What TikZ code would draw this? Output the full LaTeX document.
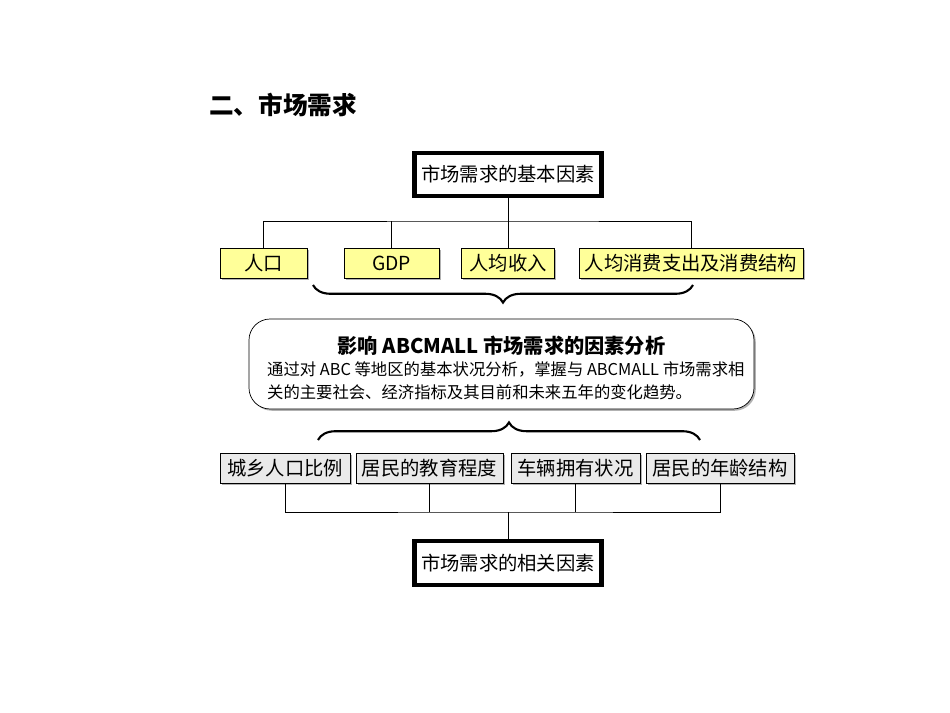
\documentclass[tikz,border=0pt]{standalone}
\usepackage{fontspec}
\setmainfont{Liberation Serif}
\newfontfamily\cjk{Noto Sans CJK SC}
\usetikzlibrary{decorations.pathreplacing,shadows}
\definecolor{factoryellow}{RGB}{255,255,153}
\definecolor{factorgray}{RGB}{234,234,234}
\tikzset{
  keybox/.style={draw, line width=2.8pt, fill=white, inner sep=0pt, font=\cjk\fontsize{11}{13}\selectfont},
  basebox/.style={draw, fill=factoryellow, inner sep=0pt, font=\cjk\fontsize{11}{13}\selectfont,
    drop shadow={shadow xshift=1pt, shadow yshift=-1pt, fill=gray!60, opacity=1}},
  relbox/.style={basebox, fill=factorgray},
  bracket/.style={decorate, decoration={brace, amplitude=10pt}, line width=1.2pt},
}
\begin{document}
\begin{tikzpicture}[x=0.02cm, y=-0.02cm]
  \useasboundingbox (0,0) rectangle (950,713);
  \node[anchor=west, font=\cjk\bfseries\fontsize{14}{16}\selectfont] (heading) at (203,105) {二、市场需求};
  % basic factors
  \node[keybox, minimum width=187*0.02cm, minimum height=43*0.02cm] (basic) at (508,174.5) {市场需求的基本因素};
  \node[basebox, minimum width=87*0.02cm, minimum height=30*0.02cm] (people) at (263.5,263) {人口};
  \node[basebox, minimum width=95*0.02cm, minimum height=30*0.02cm] (gdp) at (391.5,263) {GDP};
  \node[basebox, minimum width=93*0.02cm, minimum height=30*0.02cm] (income) at (508,263) {人均收入};
  \node[basebox, minimum width=224*0.02cm, minimum height=30*0.02cm] (spend) at (691,263) {人均消费支出及消费结构};
  \coordinate (split) at (508,221);
  \draw (basic.south) -- (split);
  \draw (people.north) |- (split) -| (spend.north);
  \draw (gdp.north) -- (gdp.north |- split);
  \draw (income.north) -- (split);
  \draw[bracket] (693,285) coordinate (braceA) -- (313,285) coordinate (braceB);
  % analysis
  \node[draw, rounded corners=12pt, fill=white, minimum width=505*0.02cm, minimum height=90*0.02cm,
        drop shadow={shadow xshift=1pt, shadow yshift=-1pt, fill=gray!60, opacity=1}] (analysis) at (501.5,364) {};
  \node[font=\cjk\bfseries\fontsize{11.5}{13}\selectfont] (title) at (501.5,346) {影响 ABCMALL 市场需求的因素分析};
  \node[anchor=west, font=\cjk\fontsize{9.3}{11}\selectfont] (line1) at (261,369) {通过对 ABC 等地区的基本状况分析，掌握与 ABCMALL 市场需求相};
  \node[anchor=west, font=\cjk\fontsize{9.3}{11}\selectfont] (line2) at (261,392) {关的主要社会、经济指标及其目前和未来五年的变化趋势。};
  \draw[bracket] (318,440) coordinate (braceC) -- (700,440) coordinate (braceD);
  % related factors
  \node[relbox, minimum width=130*0.02cm, minimum height=30*0.02cm] (ratio) at (285,468) {城乡人口比例};
  \node[relbox, minimum width=147*0.02cm, minimum height=30*0.02cm] (edu) at (429.5,468) {居民的教育程度};
  \node[relbox, minimum width=129*0.02cm, minimum height=30*0.02cm] (car) at (575.5,468) {车辆拥有状况};
  \node[relbox, minimum width=148*0.02cm, minimum height=30*0.02cm] (age) at (720,468) {居民的年龄结构};
  \node[keybox, minimum width=187*0.02cm, minimum height=44*0.02cm] (related) at (508,563) {市场需求的相关因素};
  \coordinate (join) at (508,512);
  \draw (ratio.south) |- (join) -| (age.south);
  \draw (edu.south) -- (edu.south |- join);
  \draw (car.south) -- (car.south |- join);
  \draw (join) -- (related.north);
\end{tikzpicture}
\end{document}
